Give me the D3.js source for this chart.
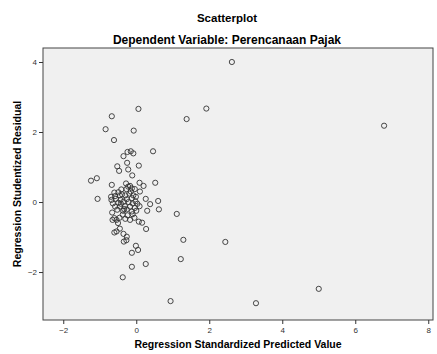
<!DOCTYPE html>
<html>
<head>
<meta charset="utf-8">
<script src="https://cdn.jsdelivr.net/npm/d3@7"></script>
<style>
  body { margin: 0; background: #fff; }
  svg { display: block; font-family: "Liberation Sans", Arial, sans-serif; }
  .tick text { fill: #333; font-size: 8px; }
  .tick line { stroke: #333; }
  .domain { display: none; }
</style>
</head>
<body>
<svg id="chart" width="437" height="354"></svg>
<script>
// standardized predicted value (x) and studentized residual (y)
const predicted = [
  2.62, 1.92, 1.38, 6.79, 1.11, 1.29, 2.44, 1.22, 5.00, 0.94, 3.28,
  0.06, -0.67, -0.84, -0.07, -0.61, 0.46, -0.35, -0.24, -0.15, -0.08,
  -0.25, -0.52, 0.07, -0.47, -0.22, -0.11, -1.24, -1.08, -0.67, -0.28,
  0.09, 0.20, 0.52, -1.06, 0.26, 0.38, 0.60, 0.62, 0.30, -0.65, -0.54,
  0.07, 0.16, 0.27, -0.45, -0.60, -0.54, -0.35, -0.26, -0.34, -0.27,
  -0.01, 0.05, -0.12, 0.26, -0.12, -0.37,
  -0.22, -0.17, -0.41, -0.27, -0.12, -0.04, 0.10, -0.60, -0.49, -0.39,
  -0.69, -0.58, -0.45, -0.30, -0.19, -0.08, -0.01, -0.68, -0.56, -0.43,
  -0.26, -0.12, -0.02, -0.64, -0.49, -0.35, -0.21, -0.10, 0.03, 0.09,
  -0.58, -0.45, -0.31, -0.17, -0.04, -0.52, -0.36, -0.26, -0.12, -0.37,
  -0.24, -0.10, -0.46, -0.30, -0.17, -0.60, -0.05, 0.00, -0.42, -0.66,
  -0.15, -0.33, -0.50
];
const residual = [
  4.00, 2.67, 2.37, 2.18, -0.34, -1.08, -1.14, -1.63, -2.48, -2.83, -2.89,
  2.66, 2.45, 2.08, 2.04, 1.77, 1.45, 1.31, 1.43, 1.45, 1.39,
  1.12, 1.02, 1.04, 0.89, 0.93, 0.76, 0.61, 0.68, 0.49, 0.53,
  0.55, 0.46, 0.55, 0.09, 0.09, -0.06, 0.03, -0.21, -0.25, -0.51, -0.51,
  -0.56, -0.59, -0.77, -0.76, -0.87, -0.84, -0.91, -0.99, -1.13, -1.09,
  -1.25, -1.37, -1.45, -1.77, -1.85, -2.15,
  0.44, 0.46, 0.36, 0.37, 0.39, 0.37, 0.30, 0.27, 0.28, 0.22,
  0.15, 0.17, 0.19, 0.19, 0.24, 0.19, 0.15, 0.06, 0.09, 0.06,
  0.08, 0.11, 0.02, -0.04, -0.02, 0.01, 0.00, -0.04, -0.05, -0.12,
  -0.13, -0.13, -0.12, -0.13, -0.17, -0.22, -0.25, -0.21, -0.27, -0.36,
  -0.38, -0.35, -0.45, -0.48, -0.51, -0.46, -0.45, -0.25, -0.05, -0.30,
  0.30, -0.20, -0.60
];
const xTicks = [-2, 0, 2, 4, 6, 8];
const yTicks = [-2, 0, 2, 4];

const frame = { left: 43, right: 433, top: 48, bottom: 320 };
const svg = d3.select('#chart');

const x = d3.scaleLinear().domain([-2.555, 8.13]).range([frame.left, frame.right]);
const y = d3.scaleLinear().domain([-3.37, 4.4]).range([frame.bottom, frame.top]);

// titles
svg.append('text').attr('x', 227).attr('y', 22).attr('text-anchor', 'middle')
  .attr('font-weight', 'bold').attr('font-size', 11.5).text('Scatterplot');
svg.append('text').attr('x', 227).attr('y', 44).attr('text-anchor', 'middle')
  .attr('font-weight', 'bold').attr('font-size', 12).text('Dependent Variable: Perencanaan Pajak');

// plot area
svg.append('rect')
  .attr('x', frame.left).attr('y', frame.top)
  .attr('width', frame.right - frame.left).attr('height', frame.bottom - frame.top)
  .attr('fill', '#f0f0f0').attr('stroke', '#444').attr('stroke-width', 1);

svg.append('g').attr('transform', `translate(0, ${frame.bottom})`)
  .call(d3.axisBottom(x).tickValues(xTicks).tickSize(4).tickPadding(3).tickFormat(d3.format('d')));
svg.append('g').attr('transform', `translate(${frame.left}, 0)`)
  .call(d3.axisLeft(y).tickValues(yTicks).tickSize(4).tickPadding(2).tickFormat(d3.format('d')));

// axis titles
svg.append('text').attr('x', (frame.left + frame.right) / 2).attr('y', 348)
  .attr('text-anchor', 'middle').attr('font-weight', 'bold').attr('font-size', 10.5)
  .text('Regression Standardized Predicted Value');
svg.append('text').attr('transform', `translate(21, ${(frame.top + frame.bottom) / 2}) rotate(-90)`)
  .attr('text-anchor', 'middle').attr('font-weight', 'bold').attr('font-size', 10.5)
  .text('Regression Studentized Residual');

// points
svg.append('g').selectAll('circle')
  .data(d3.range(predicted.length))
  .enter().append('circle')
  .attr('cx', i => x(predicted[i]))
  .attr('cy', i => y(residual[i]))
  .attr('r', 2.6)
  .attr('fill', 'none')
  .attr('stroke', '#333')
  .attr('stroke-width', 0.9);
</script>
</body>
</html>
